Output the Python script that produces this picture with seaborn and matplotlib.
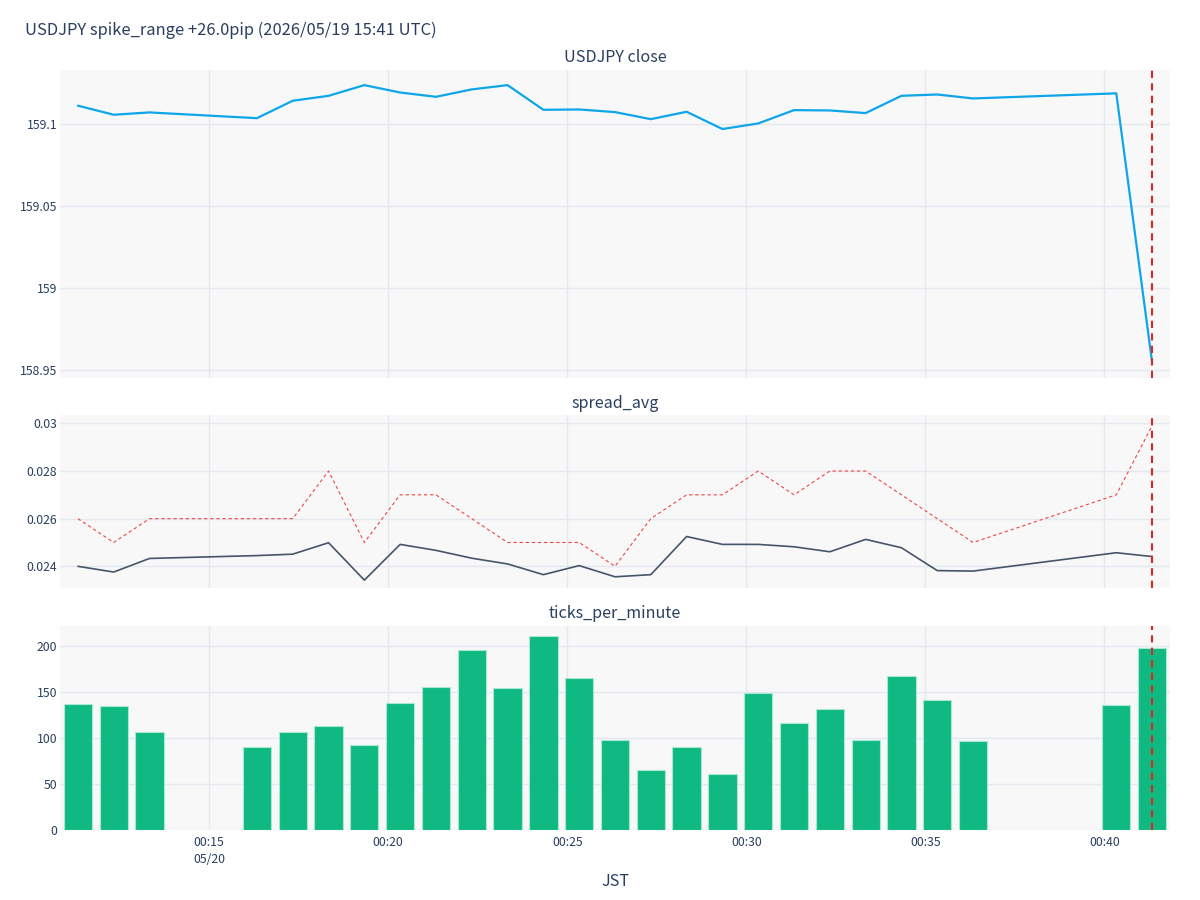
import matplotlib
matplotlib.use("Agg")
import matplotlib.pyplot as plt
import seaborn as sns
import pandas as pd

# ---------------- data ----------------
times = ["00:11:20", "00:12:20", "00:13:20", "00:16:20", "00:17:20", "00:18:20",
         "00:19:20", "00:20:20", "00:21:20", "00:22:20", "00:23:20", "00:24:20",
         "00:25:20", "00:26:20", "00:27:20", "00:28:20", "00:29:20", "00:30:20",
         "00:31:20", "00:32:20", "00:33:20", "00:34:20", "00:35:20", "00:36:20",
         "00:40:20", "00:41:20"]
close = [159.111, 159.1055, 159.1069, 159.1034, 159.114, 159.117,
         159.1235, 159.119, 159.1164, 159.1209, 159.1235, 159.1085,
         159.1087, 159.1071, 159.1028, 159.1073, 159.0968, 159.1002,
         159.1083, 159.1081, 159.1065, 159.117, 159.1178, 159.1154,
         159.1185, 158.955]
spread_avg = [0.0240, 0.02376, 0.02433, 0.02445, 0.02451, 0.02499,
              0.02342, 0.02492, 0.02467, 0.02434, 0.0241, 0.02365,
              0.02403, 0.02356, 0.02365, 0.02525, 0.02492, 0.02492,
              0.02482, 0.02461, 0.02513, 0.02478, 0.02382, 0.0238,
              0.02457, 0.02441]
spread_max = [0.026, 0.025, 0.026, 0.026, 0.026, 0.028,
              0.025, 0.027, 0.027, 0.026, 0.025, 0.025,
              0.025, 0.024, 0.026, 0.027, 0.027, 0.028,
              0.027, 0.028, 0.028, 0.027, 0.026, 0.025,
              0.027, 0.0299]
ticks_per_minute = [137, 135, 107, 90, 107, 113,
                    92, 138, 156, 196, 155, 211,
                    165, 98, 65, 90, 61, 149,
                    116, 132, 98, 168, 141, 97,
                    136, 198]
event_time = "00:41:20"
date_str = "2026-05-20"

x_ticks = ["00:15", "00:20", "00:25", "00:30", "00:35", "00:40"]
x_tick_labels = ["00:15\n05/20", "00:20", "00:25", "00:30", "00:35", "00:40"]
close_ticks = [158.95, 159.0, 159.05, 159.1]
close_tick_labels = ["158.95", "159", "159.05", "159.1"]
spread_ticks = [0.024, 0.026, 0.028, 0.030]
spread_tick_labels = ["0.024", "0.026", "0.028", "0.03"]
tick_ticks = [0, 50, 100, 150, 200]

title = "USDJPY spike_range +26.0pip (2026/05/19 15:41 UTC)"
panel_titles = ["USDJPY close", "spread_avg", "ticks_per_minute"]
xlabel = "JST"

# ---------------- frame ----------------
df = pd.DataFrame({
    "time": pd.to_datetime([f"{date_str} {t}" for t in times]),
    "close": close,
    "spread_avg": spread_avg,
    "spread_max": spread_max,
    "ticks": ticks_per_minute,
})
ev = pd.Timestamp(f"{date_str} {event_time}")
xt = pd.to_datetime([f"{date_str} {t}" for t in x_ticks])

sns.set_theme(style="white")
plt.rcParams["font.family"] = ["Noto Sans CJK JP", "DejaVu Sans"]
TXT = "#2a3f5f"
BG = "#f8f8f9"
GRID = "#e4e8ef"

fig = plt.figure(figsize=(12, 9), dpi=100)
W, H = 1200, 900
def rect(top, bottom, left=60, right=1170):
    return [left / W, 1 - bottom / H, (right - left) / W, (bottom - top) / H]

ax1 = fig.add_axes(rect(70, 378))
ax2 = fig.add_axes(rect(415, 588))
ax3 = fig.add_axes(rect(626, 830))

xmin = df["time"].iloc[0] - pd.Timedelta(seconds=30)
xmax = df["time"].iloc[-1] + pd.Timedelta(seconds=30)

for ax in (ax1, ax2, ax3):
    ax.set_facecolor(BG)
    for s in ax.spines.values():
        s.set_visible(False)
    ax.grid(True, color=GRID, linewidth=1.0)
    ax.set_axisbelow(True)
    ax.tick_params(length=0, labelsize=8.8, colors=TXT, pad=2)
    ax.set_xlim(xmin, xmax)
    ax.set_xticks(xt)

# Panel 1: close
sns.lineplot(data=df, x="time", y="close", ax=ax1, color="#0ea5e9", linewidth=1.6)
ax1.set_ylim(158.9454, 159.1327)
ax1.set_yticks(close_ticks)
ax1.set_yticklabels(close_tick_labels)

# Panel 2: spread
sns.lineplot(data=df, x="time", y="spread_max", ax=ax2, color="#ef4444",
             linewidth=0.8)
ax2.lines[-1].set_dashes((3, 2.5))
sns.lineplot(data=df, x="time", y="spread_avg", ax=ax2, color="#475569", linewidth=1.2)
ax2.set_ylim(0.02309, 0.03035)
ax2.set_yticks(spread_ticks)
ax2.set_yticklabels(spread_tick_labels)

# Panel 3: ticks per minute
ax3.bar(df["time"], df["ticks"], width=0.79 / 1440, color="#10b981",
        edgecolor="#a7e8d2", linewidth=0.8, zorder=2)
ax3.set_ylim(0, 222)
ax3.set_yticks(tick_ticks)
ax3.set_yticklabels([str(v) for v in tick_ticks])

for ax in (ax1, ax2):
    ax.set_xticklabels([])
    ax.set_xlabel("")
    ax.set_ylabel("")
ax3.set_xticklabels(x_tick_labels, linespacing=1.45)
ax3.set_xlabel("")
ax3.set_ylabel("")
ax3.tick_params(axis="x", pad=4)

for ax in (ax1, ax2, ax3):
    ax.axvline(ev, color="#dc2626", linewidth=1.5, dashes=(3.5, 2.5), zorder=5)

# Titles
fig.text(25 / W, 1 - 30 / H, title, ha="left", va="center", fontsize=11.9, color=TXT)
for ty, t in zip([57, 404, 614], panel_titles):
    fig.text(615 / W, 1 - ty / H, t, ha="center", va="center", fontsize=11.6, color=TXT)
fig.text(615 / W, 1 - 882 / H, xlabel, ha="center", va="center", fontsize=11.6, color=TXT)

fig.savefig("out.png", dpi=100, facecolor="white")
